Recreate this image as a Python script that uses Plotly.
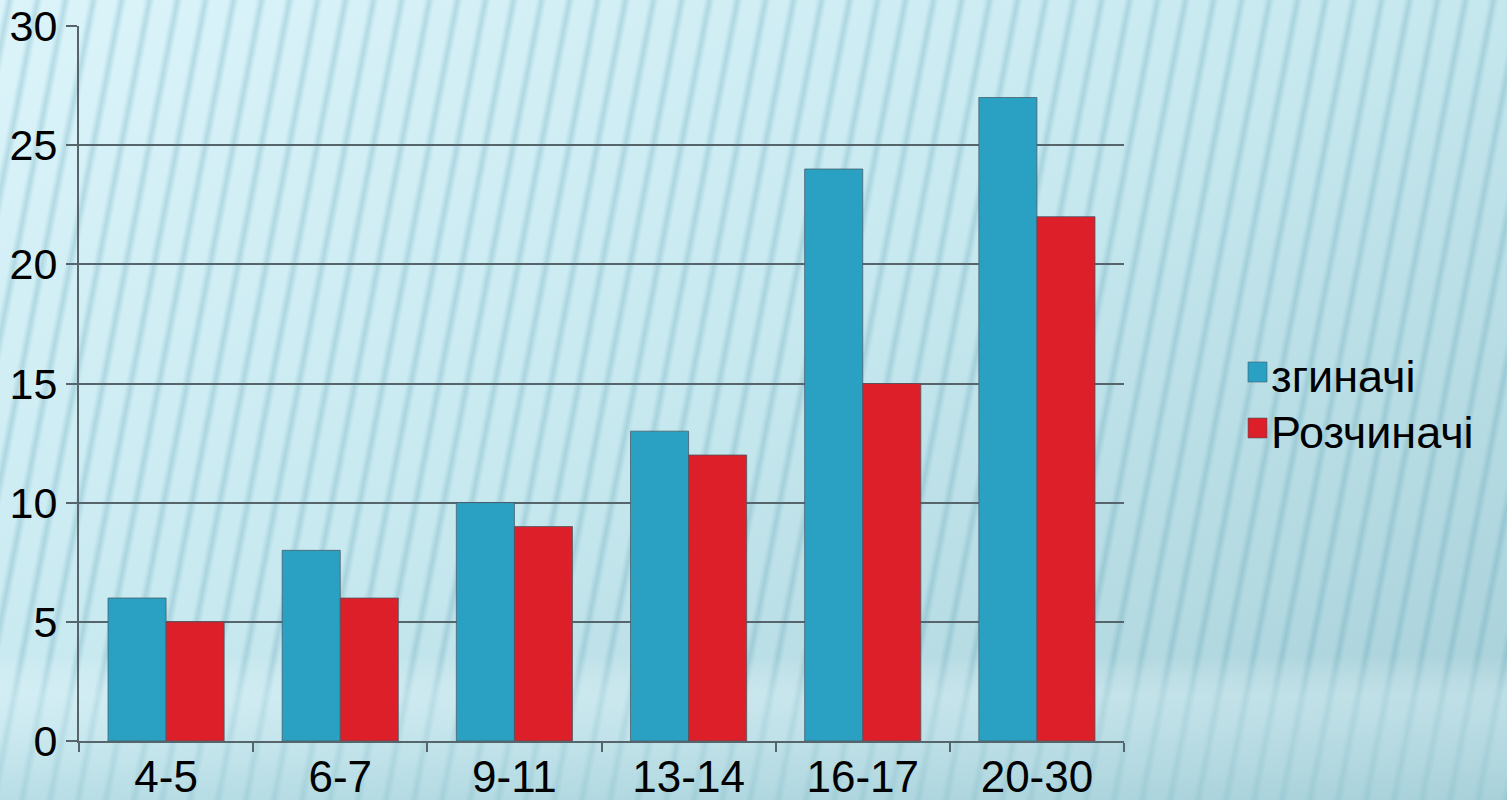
import base64
import plotly.graph_objects as go

# Age groups and the two series
categories = ["4-5", "6-7", "9-11", "13-14", "16-17", "20-30"]
flexors = [6, 8, 10, 13, 24, 27]
extensors = [5, 6, 9, 12, 15, 22]
series_names = ["згиначі", "Розчиначі"]
y_ticks = [0, 5, 10, 15, 20, 25, 30]

W, H = 1507, 800
L, R, T, B = 79, 1124, 26, 741
BLUE = "#2AA1C3"
RED = "#DC1F28"
FONT = "Liberation Sans, Arial, sans-serif"

# Striped, softly shaded slide background as an inline SVG
bg_svg = f"""<svg xmlns='http://www.w3.org/2000/svg' width='{W}' height='{H}' viewBox='0 0 {W} {H}'>
<defs>
<linearGradient id='g' x1='0' y1='0' x2='1' y2='1'>
<stop offset='0' stop-color='#DBF4FA'/>
<stop offset='0.45' stop-color='#C8E9F0'/>
<stop offset='1' stop-color='#A6CFD8'/>
</linearGradient>
<linearGradient id='s' x1='0' y1='0' x2='1' y2='0'>
<stop offset='0' stop-color='#4E97AA' stop-opacity='0'/>
<stop offset='0.5' stop-color='#4E97AA' stop-opacity='0.26'/>
<stop offset='1' stop-color='#4E97AA' stop-opacity='0'/>
</linearGradient>
<pattern id='p' width='28' height='{H}' patternUnits='userSpaceOnUse' patternTransform='skewX(-11)'>
<rect x='4' y='0' width='11' height='{H}' fill='url(#s)'/>
</pattern>
<linearGradient id='h' x1='0' y1='0' x2='0' y2='1'>
<stop offset='0' stop-color='#FFFFFF' stop-opacity='0'/>
<stop offset='0.82' stop-color='#FFFFFF' stop-opacity='0'/>
<stop offset='0.87' stop-color='#E4F6FA' stop-opacity='0.35'/>
<stop offset='1' stop-color='#A9D3DC' stop-opacity='0.45'/>
</linearGradient>
</defs>
<rect width='{W}' height='{H}' fill='url(#g)'/>
<rect x='-300' width='{W + 600}' height='{H}' fill='url(#p)'/>
<rect width='{W}' height='{H}' fill='url(#h)'/>
</svg>"""
bg_uri = "data:image/svg+xml;base64," + base64.b64encode(bg_svg.encode("utf-8")).decode("ascii")

pw, ph = R - L, B - T

fig = go.Figure()
for name, vals, col in [(series_names[0], flexors, BLUE), (series_names[1], extensors, RED)]:
    fig.add_trace(go.Bar(
        x=categories, y=vals, name=name,
        marker=dict(color=col, line=dict(color="rgba(70,90,100,0.75)", width=1)),
        showlegend=False,
    ))

# Compact legend: colour squares with labels beside them
legend_rows = [(series_names[0], BLUE, 372), (series_names[1], RED, 428)]
for text, col, yc in legend_rows:
    fig.add_shape(
        type="rect", xref="paper", yref="paper",
        x0=(1248 - L) / pw, x1=(1267 - L) / pw,
        y0=(B - (yc + 10)) / ph, y1=(B - (yc - 10)) / ph,
        fillcolor=col, line=dict(color="rgba(70,90,100,0.6)", width=1),
    )
    fig.add_annotation(
        xref="paper", yref="paper", x=(1269 - L) / pw, y=(B - yc - 4) / ph,
        text=text, showarrow=False, xanchor="left", yanchor="middle",
        font=dict(family=FONT, size=45, color="#000000"),
    )

fig.add_layout_image(
    source=bg_uri, xref="paper", yref="paper",
    x=-L / pw, y=1 + T / ph, sizex=W / pw, sizey=H / ph,
    xanchor="left", yanchor="top", sizing="stretch", layer="below",
)

fig.update_layout(
    width=W, height=H,
    margin=dict(l=L, r=W - R, t=T, b=H - B, pad=0, autoexpand=False),
    paper_bgcolor="#CDEBF2",
    plot_bgcolor="rgba(0,0,0,0)",
    barmode="group", bargap=0.333, bargroupgap=0,
    font=dict(family=FONT, size=42, color="#000000"),
)
fig.update_xaxes(
    automargin=False,
    showgrid=False, showline=True, linecolor="#56656B", linewidth=2,
    ticks="outside", tickson="boundaries", ticklen=9, tickwidth=2, tickcolor="#56656B",
    ticklabelstandoff=-4,
    tickfont=dict(family=FONT, size=44, color="#000000"),
)
fig.update_yaxes(
    automargin=False,
    range=[0, 30], tickvals=y_ticks, showgrid=True, gridcolor="#56656B", gridwidth=2,
    showline=True, linecolor="#56656B", linewidth=2, zeroline=False,
    ticks="outside", ticklen=11, tickwidth=2, tickcolor="#56656B",
    tickfont=dict(family=FONT, size=43, color="#000000"),
)

fig.write_html("out.html")
